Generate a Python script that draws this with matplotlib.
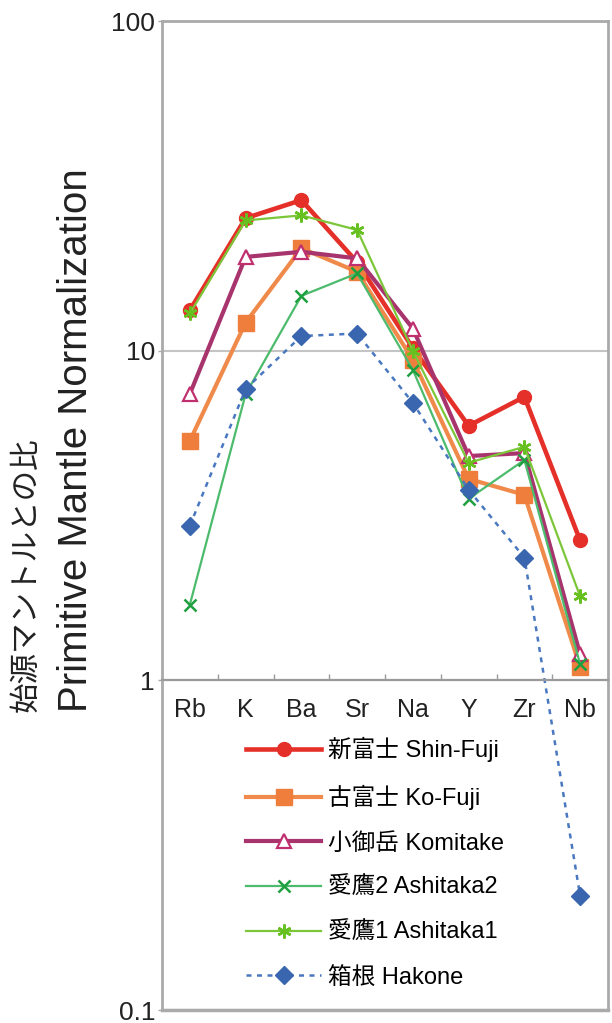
import matplotlib

matplotlib.use("Agg")

import matplotlib.pyplot as plt
from matplotlib.ticker import FixedLocator, NullLocator, FixedFormatter

plt.rcParams["font.family"] = ["Liberation Sans", "Noto Sans CJK JP"]

elements = ["Rb", "K", "Ba", "Sr", "Na", "Y", "Zr", "Nb"]

shin_fuji = [13.3, 25.3, 28.7, 18.6, 10.2, 5.93, 7.26, 2.66]
ko_fuji = [5.34, 12.2, 20.5, 17.4, 9.4, 4.09, 3.66, 1.10]
komitake = [7.41, 19.3, 20.0, 19.1, 11.7, 4.8, 4.9, 1.2]
ashitaka2 = [1.70, 7.4, 14.7, 17.2, 8.76, 3.56, 4.67, 1.12]
ashitaka1 = [13.0, 24.9, 25.8, 23.3, 10.0, 4.58, 5.12, 1.80]
hakone = [2.95, 7.67, 11.1, 11.3, 6.96, 3.79, 2.36, 0.222]

labels = [
    "新富士 Shin-Fuji",
    "古富士 Ko-Fuji",
    "小御岳 Komitake",
    "愛鷹2 Ashitaka2",
    "愛鷹1 Ashitaka1",
    "箱根 Hakone",
]

y_ticks = [0.1, 1, 10, 100]
y_tick_labels = ["0.1", "1", "10", "100"]

fig = plt.figure(figsize=(6.12, 10.23), dpi=100)
ax = fig.add_axes([0.2647, 0.0127, 0.7288, 0.9663])

x = range(len(elements))
ax.plot(x, shin_fuji, color="#e5302a", lw=3.3, marker="o", ms=10, label=labels[0])
ax.plot(x, ko_fuji, color="#f08a4a", lw=3.0, marker="s", ms=11,
        mfc="#ef7d3c", mec="#ef7d3c", label=labels[1])
ax.plot(x, komitake, color="#a8346e", lw=3.0, marker="^", ms=10,
        mfc="white", mec="#c0306e", mew=1.6, label=labels[2])
ax.plot(x, ashitaka2, color="#4cbb6c", lw=1.6, marker="x", ms=8,
        mec="#1fa040", mew=1.8, label=labels[3])
ax.plot(x, ashitaka1, color="#7cc63a", lw=1.6, marker=(6, 2, 0), ms=10,
        mec="#66c020", mew=1.8, label=labels[4])
ax.plot(x, hakone, color="#4a78c0", lw=1.8, ls=(0, (2, 2.2)), marker="D", ms=9,
        mfc="#3a66b0", mec="#3a66b0", label=labels[5])

ax.set_yscale("log")
ax.set_ylim(0.1, 100)
ax.set_xlim(-0.5, len(elements) - 0.5)
ax.yaxis.set_major_locator(FixedLocator(y_ticks))
ax.yaxis.set_major_formatter(FixedFormatter(y_tick_labels))
ax.yaxis.set_minor_locator(NullLocator())
ax.grid(True, axis="y", color="#c4c4c4", lw=1.5)
ax.set_axisbelow(True)
ax.tick_params(axis="y", length=3, width=1, color="#aaaaaa", pad=2,
               labelsize=19, labelcolor="#222222")

# category axis crosses at 1
ax.spines["bottom"].set_position(("data", 1))
ax.spines["bottom"].set_color("#9a9a9a")
ax.spines["bottom"].set_linewidth(1.6)
ax.set_xticks(list(x))
ax.set_xticklabels(elements)
ax.set_xticks([i + 0.5 for i in range(len(elements) - 1)], minor=True)
ax.tick_params(axis="x", which="major", length=0, pad=12.5, labelsize=18, labelcolor="#222222")
ax.tick_params(axis="x", which="minor", direction="in", length=4.5, width=1, color="#9a9a9a")

for side in ["left", "top", "right"]:
    ax.spines[side].set_color("#aaaaaa")
    ax.spines[side].set_linewidth(2)
ax.plot([0, 1], [0, 0], transform=ax.transAxes, color="#aaaaaa", lw=2.5, clip_on=False)

ax.legend(loc="upper left", bbox_to_anchor=(0.188, 0.276), frameon=False, fontsize=17,
          handlelength=3.2, handletextpad=0.3, labelspacing=0.96, borderpad=0,
          borderaxespad=0, numpoints=1)

fig.text(27 / 612, 311 / 1023, "始源マントルとの比", rotation=90, ha="center", va="bottom",
         fontsize=22, color="#222222")
fig.text(76 / 612, 311 / 1023, "Primitive Mantle Normalization", rotation=90, ha="center",
         va="bottom", fontsize=29, color="#222222")

fig.savefig("out.png", dpi=100)
